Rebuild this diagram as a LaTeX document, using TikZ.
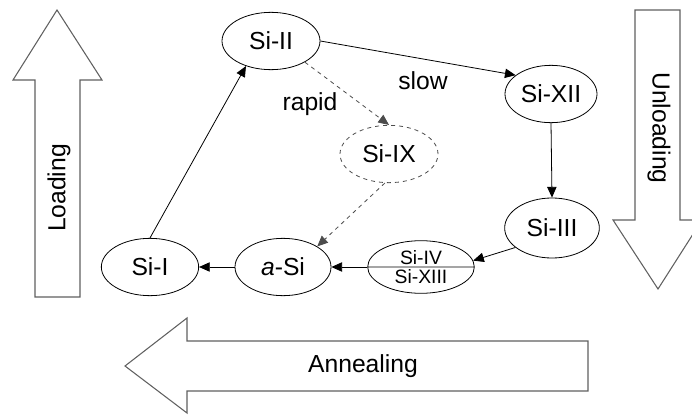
\documentclass[tikz,border=0pt]{standalone}
\usepackage{fontspec}
\setmainfont{Liberation Sans}
\usepackage{tikz}
\usetikzlibrary{
  arrows.meta,
  shapes.geometric,
  shapes.multipart
}
\tikzset{
  phase/.style={draw, ellipse, semithick, inner sep=0pt,
    minimum width=72pt, minimum height=43pt,
    font=\fontsize{18.5}{22}\selectfont},
  phasesplit/.style={draw, ellipse split, semithick, inner xsep=5pt, inner ysep=1.5pt,
    minimum width=80pt, minimum height=39pt,
    font=\fontsize{14.5}{15}\selectfont},
  lbl/.style={font=\fontsize{18.5}{22}\selectfont, text=black},
  arr/.style={-{Triangle[length=8pt,width=7pt]}, semithick},
  darr/.style={-{Triangle[length=8pt,width=7pt]}, semithick, dashed, gray!60!black},
  bigarrow/.style={draw=gray!75!black, thick, line join=miter},
}

\begin{document}
\begin{tikzpicture}[x=0.75pt, y=-0.75pt]
  \useasboundingbox (0,0) rectangle (692,414);

  % phases
  \node[phase, minimum width=73.5pt] (SiII) at (271,41) {Si-II};
  \node[phase, minimum width=69pt] (SiXII) at (551,94) {Si-XII};
  \node[phase, minimum width=73.5pt, dashed, draw=gray!60!black] (SiIX) at (389,154) {Si-IX};
  \node[phase, minimum width=71pt, minimum height=45pt] (SiIII) at (552,228) {Si-III};
  \node[phasesplit] (SiIVXIII) at (421,267) {Si-IV \nodepart{lower} Si-XIII};
  \node[phase] (aSi) at (283,267) {\textit{a}-Si};
  \node[phase, minimum width=73pt] (SiI) at (150,267) {Si-I};

  % transitions
  \draw[arr] (SiI.north) -- (SiII.225);
  \draw[arr] (SiII.east) -- (SiXII.152);
  \draw[darr] (SiII.328) -- (SiIX.north);
  \draw[darr] (SiIX.262) -- (aSi.31);
  \draw[arr] (SiXII.south) -- (SiIII.north);
  \draw[arr] (SiIII.208) -- (SiIVXIII.7);
  \draw[arr] (SiIVXIII.west) -- (aSi.east);
  \draw[arr] (aSi.west) -- (SiI.east);

  % rates
  \node[lbl] (slow) at (423,81) {slow};
  \node[lbl] (rapid) at (310,104) {rapid};

  % big arrows
  \draw[bigarrow] (35,297) -- (35,80) -- (13,80) -- (57,10) -- (102,80) -- (80,80) -- (80,297) -- cycle;
  \node[lbl, rotate=90] (loading) at (59,188) {Loading};
  \draw[bigarrow] (635,10) -- (680,10) -- (680,220) -- (702,220) -- (658,289) -- (613,220) -- (635,220) -- cycle;
  \node[lbl, rotate=-90] (unloading) at (659,128) {Unloading};
  \draw[bigarrow] (588,341) -- (187,341) -- (187,318) -- (125,366) -- (187,413) -- (187,391) -- (588,391) -- cycle;
  \node[lbl] (annealing) at (363,366) {Annealing};
\end{tikzpicture}
\end{document}
